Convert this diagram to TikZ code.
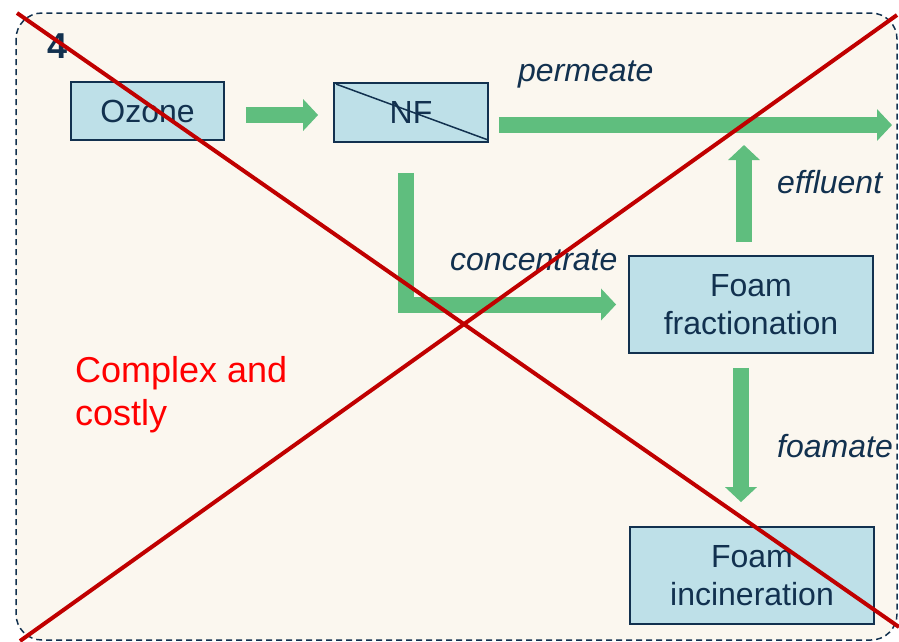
\documentclass[tikz,border=0pt]{standalone}
\usepackage{fontspec}
\setmainfont{Liberation Sans}
\usetikzlibrary{arrows.meta,calc}

\definecolor{navy}{HTML}{12314F}
\definecolor{boxfill}{HTML}{BEE0E8}
\definecolor{paper}{HTML}{FBF7EF}
\definecolor{flowgreen}{HTML}{5FBE7E}
\definecolor{crossred}{HTML}{C00000}

\begin{document}
\begin{tikzpicture}[
		x=1pt,
		y=-1pt,
		unit/.style={
			rectangle,
			draw=navy,
			fill=boxfill,
			line width=1.8pt,
			align=center,
			inner sep=0pt,
			text=navy,
			font=\fontsize{32}{38.4}\selectfont
		},
		stream/.style={
			anchor=base west,
			inner sep=0pt,
			text=navy,
			font=\fontsize{32}{38.4}\selectfont\itshape
		},
		flow/.style={
			draw=flowgreen,
			line width=16pt,
			-{Triangle[length=15pt,width=31pt]}
		},
		cross/.style={
			draw=crossred,
			line width=4pt
		}
		]
		
		\useasboundingbox (0,0) rectangle (899,641);
		
		% dashed panel
		\draw[navy, line width=1.5pt, dash pattern=on 6pt off 4pt,
		fill=paper, rounded corners=26pt] (16,13) rectangle (897,640);
		
		\node[anchor=base west, inner sep=0pt, text=navy,
		font=\fontsize{36}{43.2}\selectfont\bfseries] (panelno) at (47,58) {4};
		
		\node[unit, minimum width=153pt, minimum height=58pt] (ozone)
		at (147.5,111) {Ozone};
		
		\node[unit, minimum width=154pt, minimum height=59pt] (nf)
		at (411,112.5) {NF};
		
		\node[unit, minimum width=244pt, minimum height=97pt] (foamfrac)
		at (751,304.5) {Foam\\fractionation};
		
		\node[unit, minimum width=244pt, minimum height=97pt] (foaminc)
		at (752,575.5) {Foam\\incineration};
		
		\draw[navy, line width=1.5pt]
		($(nf.north west)+(3,2)$) -- ($(nf.south east)+(-1,-3)$);
		
		\coordinate (permeateend) at (892,125);
		
		% streams
		\draw[flow] ($(ozone.east)+(21,4)$) -- ($(nf.west)+(-15,2.5)$);
		\draw[flow] ($(nf.east)+(10,12.5)$) -- (permeateend);
		\draw[flow] ($(nf.south)+(-5,30)$) |- ($(foamfrac.west)+(-12,0)$);
		\draw[flow] ($(foamfrac.north)+(-7,-13)$)
		-- ($(foamfrac.north |- permeateend)+(-7,20)$);
		\draw[flow] ($(foamfrac.south)+(-10,14)$) -- ($(foaminc.north)+(-11,-24)$);
		
		\node[stream] (permeate) at (518,81) {permeate};
		\node[stream] (concentrate) at (450,270) {concentrate};
		\node[stream] (effluent) at (777,193) {effluent};
		\node[stream] (foamate) at (777,457) {foamate};
		
		\node[anchor=north west, inner sep=0pt, align=left, text=red,
		font=\fontsize{36}{43.2}\selectfont] (verdict) at (75,356)
		{Complex and\\costly};
		
		% crossed out
		\draw[cross] (17,13) -- (899,627);
		\draw[cross] (20,641) -- (897,15);
		
	\end{tikzpicture}
\end{document}
